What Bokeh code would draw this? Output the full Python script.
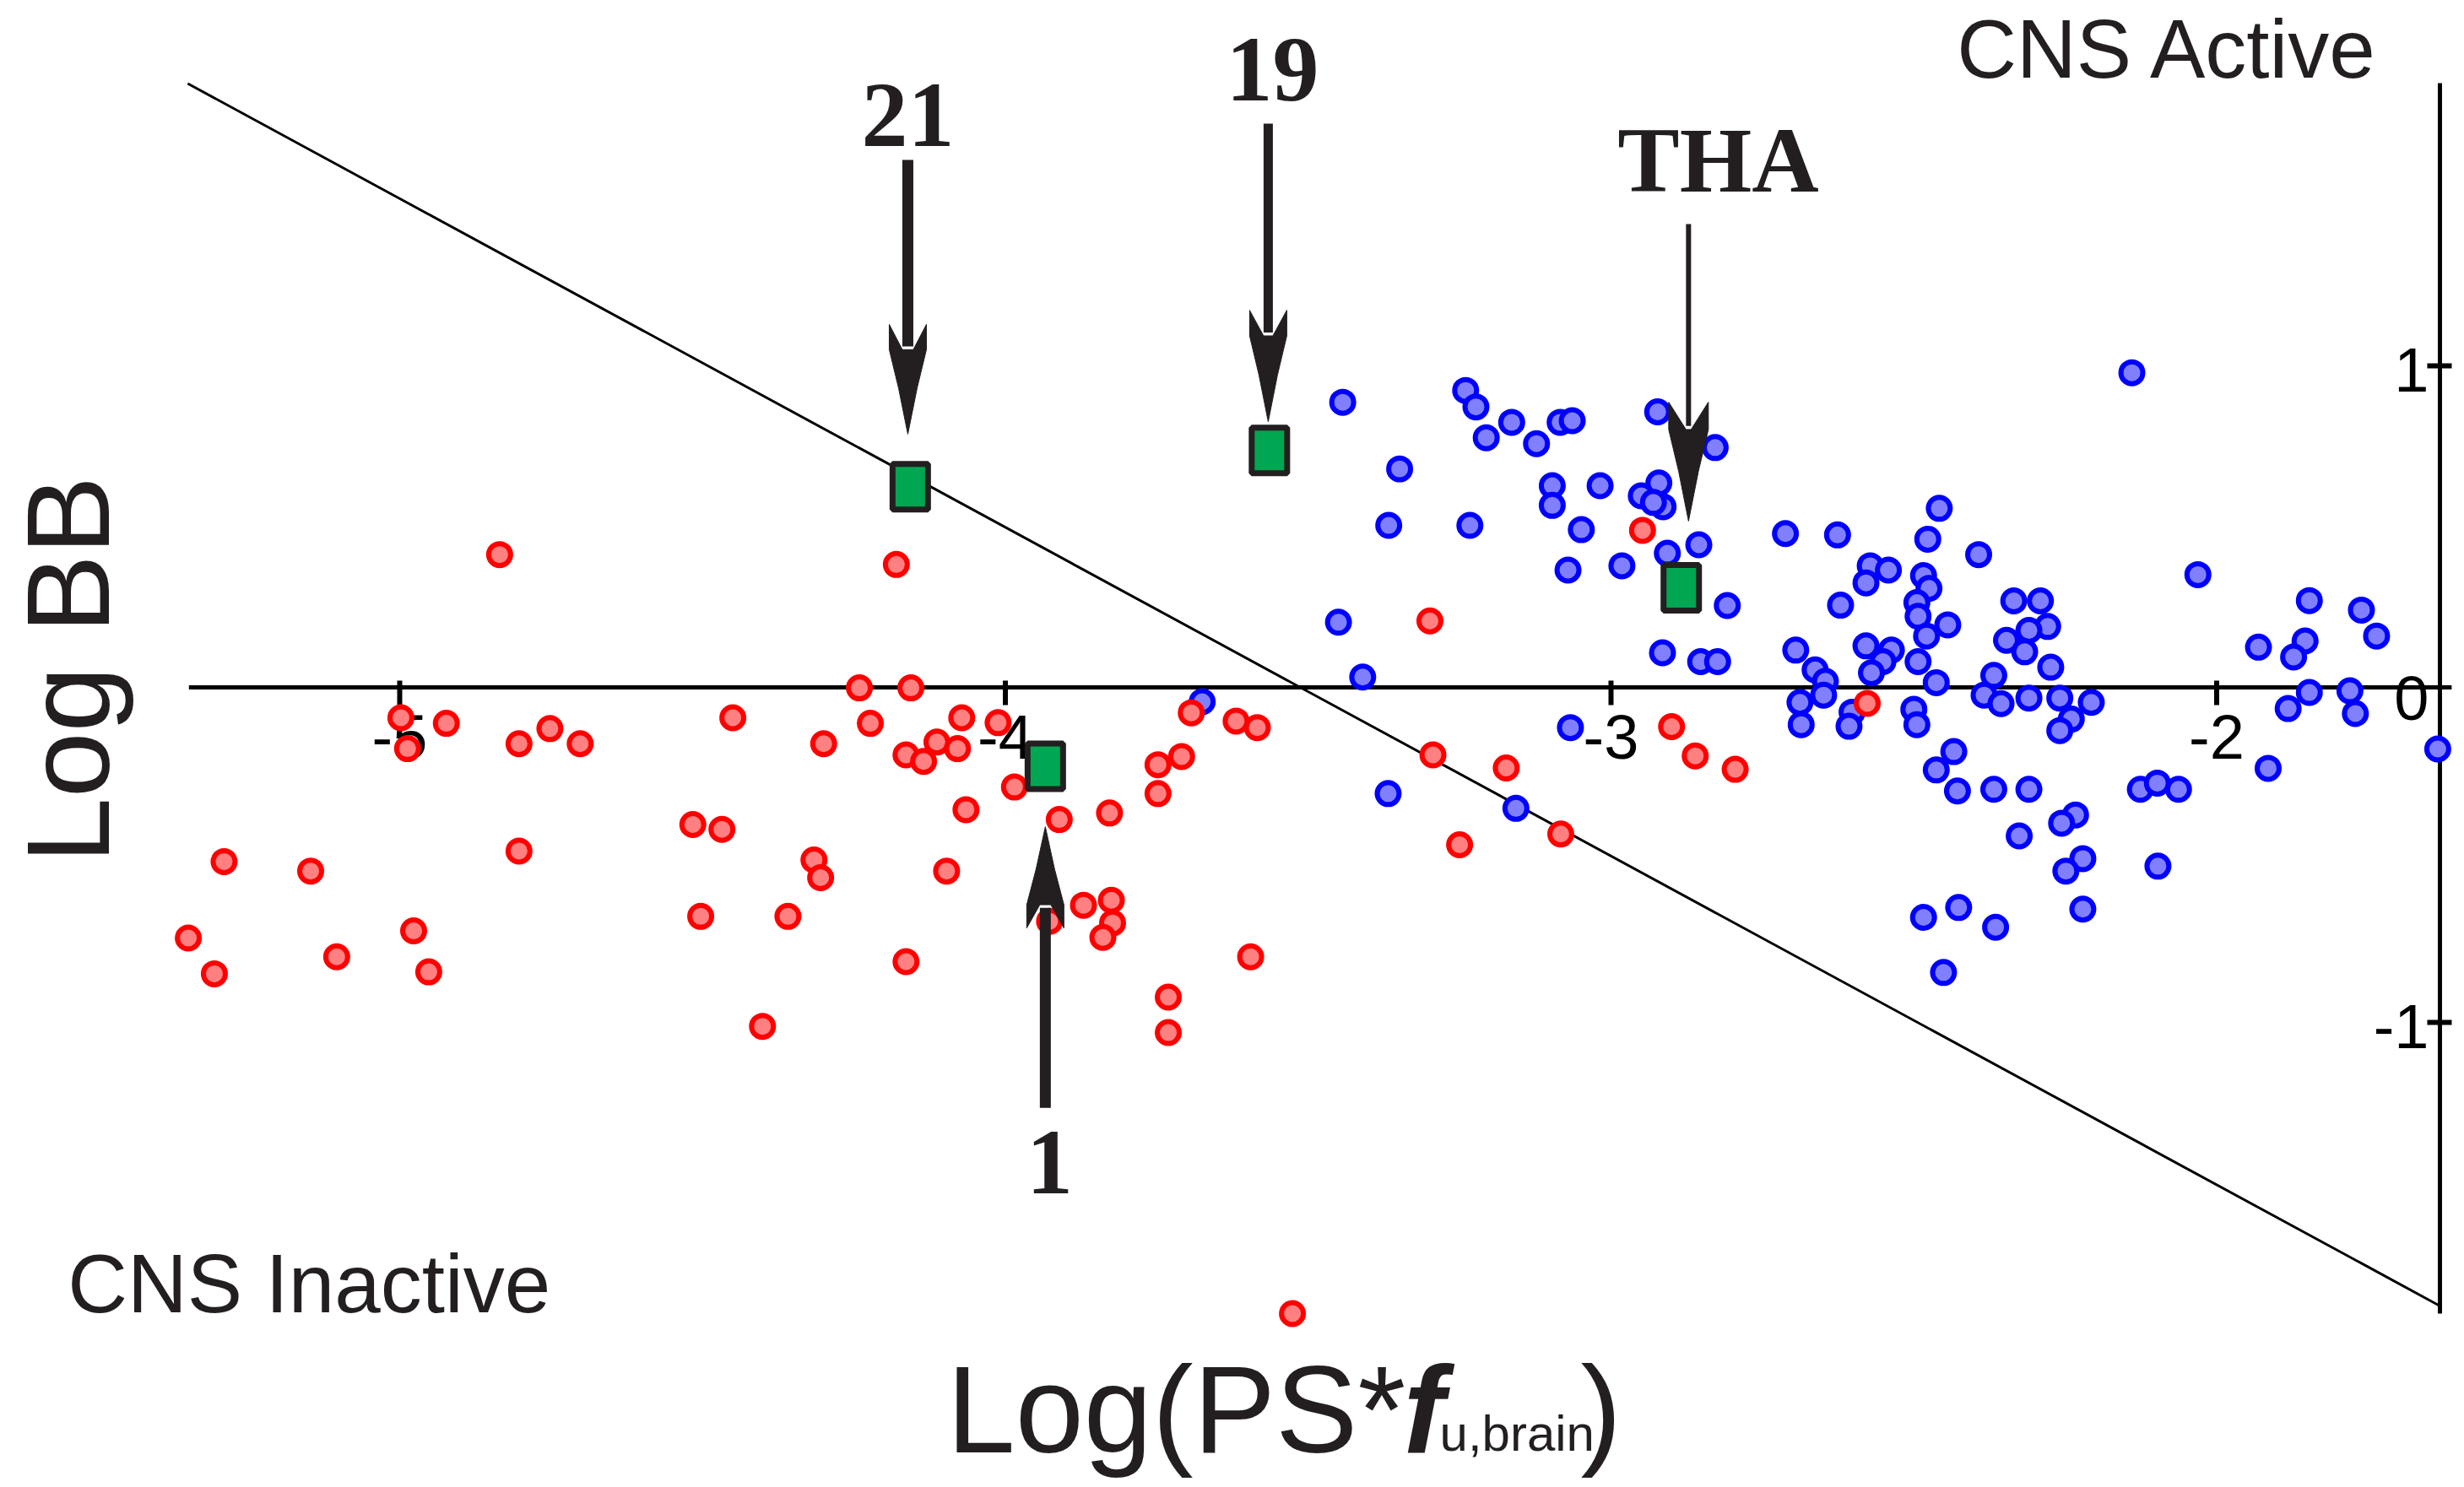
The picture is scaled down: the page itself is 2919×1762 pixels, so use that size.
import math
from bokeh.plotting import figure
from bokeh.models import Range1d
from bokeh.core.properties import value
from bokeh.embed import file_html
from bokeh.resources import INLINE

# ---------------- data ----------------
blue_x = [-3.443, -3.240, -3.223, -3.164, -3.206, -3.123, -3.084, -3.064, -2.923, -2.828,
          -3.349, -3.097, -3.097, -3.018, -2.921, -2.950, -2.914, -2.930, -3.049, -3.367,
          -3.233, -3.071, -2.982, -2.907, -2.855, -2.808, -3.450, -3.410, -2.915, -2.852,
          -2.824, -3.067, -3.675, -3.368, -3.157, -2.712, -2.626, -2.458, -2.477, -2.393,
          -2.572, -2.542, -2.579, -2.484, -2.475, -2.495, -2.493, -2.479, -2.493, -2.444,
          -2.463, -2.621, -2.335, -2.291, -2.279, -2.310, -2.347, -2.317, -2.274, -2.368,
          -2.695, -2.663, -2.646, -2.579, -2.537, -2.551, -2.570, -2.688, -2.649, -2.686,
          -2.602, -2.500, -2.495, -2.384, -2.356, -2.310, -2.259, -2.207, -2.240, -2.259,
          -2.434, -2.463, -2.428, -2.368, -2.310, -2.233, -2.256, -2.326, -2.221, -2.249,
          -2.484, -2.426, -2.365, -2.451, -2.221, -2.140, -2.031, -1.847, -1.761, -1.736,
          -1.931, -1.854, -1.873, -1.847, -1.882, -1.780, -1.771, -1.635, -1.915, -2.126,
          -2.098, -2.063, -2.097, -2.607]
blue_y = [0.889, 0.925, 0.875, 0.828, 0.781, 0.763, 0.828, 0.833, 0.860, 0.751,
          0.686, 0.635, 0.575, 0.635, 0.643, 0.604, 0.571, 0.584, 0.501, 0.514,
          0.514, 0.378, 0.391, 0.429, 0.455, 0.270, 0.219, 0.052, 0.126, 0.099,
          0.099, -0.102, -0.023, -0.303, -0.348, 0.489, 0.485, 0.566, 0.472, 0.425,
          0.391, 0.378, 0.339, 0.361, 0.322, 0.279, 0.237, 0.177, 0.099, 0.211,
          0.035, 0.271, 0.284, 0.284, 0.206, 0.194, 0.164, 0.129, 0.082, 0.057,
          0.134, 0.074, 0.039, 0.147, 0.134, 0.099, 0.065, -0.025, -0.003, -0.093,
          -0.055, -0.046, -0.093, -0.003, -0.029, -0.012, -0.012, -0.025, -0.076, -0.111,
          -0.175, -0.231, -0.295, -0.290, -0.290, -0.368, -0.393, -0.432, -0.501, -0.539,
          -0.680, -0.650, -0.710, -0.848, -0.655, 0.979, 0.364, 0.285, 0.256, 0.177,
          0.143, 0.162, 0.113, 0.005, -0.044, 0.010, -0.059, -0.167, -0.226, -0.290,
          -0.271, -0.290, -0.524, -0.098]

red_x = [-4.835, -4.998, -4.923, -4.752, -4.803, -4.702, -4.987, -4.803, -5.290, -5.147,
         -5.349, -4.977, -5.104, -5.306, -4.952, -4.180, -4.241, -4.156, -4.450, -4.223,
         -4.072, -4.012, -4.300, -4.164, -4.113, -4.079, -4.135, -3.985, -4.065, -3.911,
         -3.828, -3.748, -3.748, -4.516, -4.468, -4.316, -4.305, -4.097, -4.503, -4.359,
         -3.871, -3.825, -3.823, -3.839, -3.927, -4.164, -4.401, -3.731, -3.731, -3.299,
         -3.693, -3.619, -3.584, -3.709, -3.294, -3.173, -3.083, -3.250, -2.900, -3.595,
         -2.948, -2.861, -2.795, -2.577, -3.526]
red_y = [0.425, -0.072, -0.089, -0.105, -0.151, -0.151, -0.166, -0.478, -0.510, -0.539,
         -0.743, -0.721, -0.800, -0.852, -0.846, 0.395, 0.019, 0.019, -0.072, -0.089,
         -0.072, -0.087, -0.151, -0.185, -0.146, -0.166, -0.205, -0.283, -0.352, -0.382,
         -0.362, -0.215, -0.303, -0.397, -0.412, -0.505, -0.559, -0.539, -0.677, -0.677,
         -0.643, -0.628, -0.697, -0.741, -0.692, -0.815, -1.012, -0.923, -1.031, 0.223,
         -0.057, -0.082, -0.102, -0.190, -0.185, -0.225, -0.426, -0.459, -0.099, -0.800,
         0.499, -0.188, -0.229, -0.028, -1.887]

# highlighted compounds (green squares)
cmp_names = ["21", "19", "THA", "1"]
cmp_x = [-4.157, -3.564, -2.884, -3.934]
cmp_y = [0.632, 0.742, 0.324, -0.220]

# arrows pointing at the compounds and their labels
arrow_x = [-4.161, -3.566, -2.872, -3.934]
arrow_from_y = [1.627, 1.738, 1.432, -1.260]
arrow_to_y = [0.792, 0.830, 0.527, -0.404]
label_x = [-4.161, -3.559, -2.823, -3.927]
label_y = [1.679, 1.817, 1.540, -1.512]

# CNS active / inactive boundary
boundary_x = [-5.35, -1.63]
boundary_y = [1.86, -1.865]

x_ticks = [-5, -4, -3, -2]
x_tick_labels = ["-5", "-4", "-3", "-2"]
y_ticks = [1, 0, -1]
y_tick_labels = ["1", "0", "-1"]

# ---------------- layout ----------------
W, H = 2910, 1755
PX_X = 717.5          # px per x unit
PX_Y = 389.0          # px per y unit
X0 = -5 - 473 / PX_X
X1 = X0 + W / PX_X
Y1 = 822 / PX_Y
Y0 = Y1 - H / PX_Y
SX, SY = PX_X, PX_Y

XAXIS_AT = 0.0206     # where the horizontal axis crosses
YAXIS_AT = -1.6314    # where the vertical axis crosses
XAXIS_SPAN = (-5.348, -1.612)
YAXIS_SPAN = (-1.887, 1.861)

INK = "#231f20"
SANS = "Liberation Sans"
K = 0.30              # compensation of the svg alphabetic baseline (fraction of font size)


def up(fs):
    return K * fs / SY


p = figure(width=W, height=H, x_range=Range1d(X0, X1), y_range=Range1d(Y0, Y1),
           output_backend="svg", toolbar_location=None, title=None,
           x_axis_location=None, y_axis_location=None, min_border=0)
p.outline_line_color = None
p.background_fill_color = "white"
p.border_fill_color = "white"
p.xgrid.visible = False
p.ygrid.visible = False

# boundary line
p.line(boundary_x, boundary_y, line_color="black", line_width=3)

# axes
p.segment(x0=[XAXIS_SPAN[0]], y0=[XAXIS_AT], x1=[XAXIS_SPAN[1]], y1=[XAXIS_AT],
          line_color="black", line_width=5)
p.segment(x0=[YAXIS_AT], y0=[YAXIS_SPAN[0]], x1=[YAXIS_AT], y1=[YAXIS_SPAN[1]],
          line_color="black", line_width=5)
# x ticks (cross the axis line)
p.segment(x0=x_ticks, y0=[XAXIS_AT + 8 / SY] * len(x_ticks),
          x1=x_ticks, y1=[XAXIS_AT - 21 / SY] * len(x_ticks),
          line_color="black", line_width=6)
p.text(x=x_ticks, y=[XAXIS_AT - 81 / SY + up(74)] * len(x_ticks), text=x_tick_labels,
       text_font=value(SANS), text_font_size="74px", text_align="center",
       text_baseline="alphabetic", text_color="black")
# y ticks
yt = [t for t in y_ticks if t != 0]
p.segment(x0=[YAXIS_AT - 15 / SX] * len(yt), y0=yt, x1=[YAXIS_AT + 14 / SX] * len(yt), y1=yt,
          line_color="black", line_width=6)
p.text(x=[YAXIS_AT - 13 / SX] * len(y_ticks), y=[t - 27 / SY + up(74) for t in y_ticks],
       text=y_tick_labels, text_font=value(SANS), text_font_size="74px",
       text_align="right", text_baseline="alphabetic", text_color="black")

# data points
p.scatter(blue_x, blue_y, marker="circle", size=26, fill_color="#8080ff",
          line_color="#0000ff", line_width=6)
p.scatter(red_x, red_y, marker="circle", size=26, fill_color="#ff8080",
          line_color="#ff0000", line_width=6)

# highlighted compounds
p.rect(cmp_x, cmp_y, width=42, height=54, width_units="screen", height_units="screen",
       fill_color="#00a651", line_color=INK, line_width=7)

# arrows
head_len = [130, 132, 141, 120]
head_half = [22, 22, 23.5, 22]
shaft_w = [13, 11, 6, 13]
xs, ys = [], []
for ax, y_from, y_to, L, hw, sw in zip(arrow_x, arrow_from_y, arrow_to_y, head_len, head_half, shaft_w):
    s = 1 if y_from > y_to else -1
    shape = [(0, 0), (0.5 * hw, 0.42 * L), (hw, 0.77 * L), (hw, L), (sw / 2, 0.77 * L),
             (-sw / 2, 0.77 * L), (-hw, L), (-hw, 0.77 * L), (-0.5 * hw, 0.42 * L)]
    xs.append([ax + dx / SX for dx, d in shape])
    ys.append([y_to + s * d / SY for dx, d in shape])
    p.segment(x0=[ax], y0=[y_from], x1=[ax], y1=[y_to + s * 0.8 * L / SY],
              line_color=INK, line_width=sw)
p.patches(xs, ys, fill_color=INK, line_color=INK, line_width=1)

p.text(x=label_x, y=[v + up(110) for v in label_y], text=cmp_names,
       text_font=value("Liberation Serif"), text_font_style="bold", text_font_size="110px",
       text_align="center", text_baseline="alphabetic", text_color=INK)

# region labels
p.text(x=[-2.429], y=[1.889 + up(98)], text=["CNS Active"], text_font=value(SANS),
       text_font_size="98px", text_align="left", text_baseline="alphabetic", text_color=INK)
p.text(x=[-5.548], y=[-1.871 + up(98)], text=["CNS Inactive"], text_font=value(SANS),
       text_font_size="98px", text_align="left", text_baseline="alphabetic", text_color=INK)

# axis titles
p.text(x=[-5.4892 - K * 140 / SX], y=[0.0746], text=["Log BB"], angle=math.pi / 2,
       text_font=value(SANS), text_font_size="140px", text_align="center",
       text_baseline="alphabetic", text_color=INK)
p.text(x=[-4.0969], y=[-2.293 + up(146)], text=["Log(PS*"], text_font=value(SANS),
       text_font_size="146px", text_align="left", text_baseline="alphabetic", text_color=INK)
p.text(x=[-3.3429], y=[-2.293 + up(146)], text=["f"], text_font=value(SANS),
       text_font_style="bold italic", text_font_size="146px", text_align="left",
       text_baseline="alphabetic", text_color=INK)
p.text(x=[-3.2829], y=[-2.298 + up(60)], text=["u,brain"],
       text_font=value(SANS), text_font_size="60px", text_align="left",
       text_baseline="alphabetic", text_color=INK)
p.text(x=[-3.0502], y=[-2.293 + up(146)], text=[")"], text_font=value(SANS),
       text_font_size="146px", text_align="left", text_baseline="alphabetic", text_color=INK)

open("out.html", "w").write(file_html(p, INLINE))
